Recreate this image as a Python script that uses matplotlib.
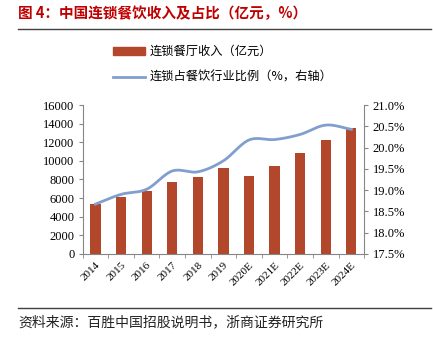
import numpy as np
import matplotlib
matplotlib.use("Agg")
import matplotlib.pyplot as plt
from matplotlib.patches import Rectangle
from matplotlib.lines import Line2D

plt.rcParams['font.family'] = ['Noto Sans CJK SC', 'DejaVu Sans']

years = ['2014', '2015', '2016', '2017', '2018', '2019',
         '2020E', '2021E', '2022E', '2023E', '2024E']
revenue = [5400, 6100, 6800, 7700, 8300, 9200, 8400, 9500, 10800, 12200, 13500]
share = [18.67, 18.90, 19.02, 19.45, 19.43, 19.69, 20.18, 20.19, 20.31, 20.53, 20.43]

bar_color = '#B2472B'
line_color = '#819FCE'
serif = 'Liberation Serif'


def smooth(x, y, n=20):
    # catmull-rom style curve through the points (like excel smoothed line)
    x = np.asarray(x, float)
    y = np.asarray(y, float)
    px = np.concatenate([[2 * x[0] - x[1]], x, [2 * x[-1] - x[-2]]])
    py = np.concatenate([[2 * y[0] - y[1]], y, [2 * y[-1] - y[-2]]])
    xs, ys = [], []
    for i in range(1, len(px) - 2):
        t = np.linspace(0, 1, n, endpoint=False)
        for arr, out in ((px, xs), (py, ys)):
            p0, p1, p2, p3 = arr[i - 1], arr[i], arr[i + 1], arr[i + 2]
            out.extend(0.5 * ((2 * p1) + (-p0 + p2) * t
                              + (2 * p0 - 5 * p1 + 4 * p2 - p3) * t ** 2
                              + (-p0 + 3 * p1 - 3 * p2 + p3) * t ** 3))
    xs.append(x[-1])
    ys.append(y[-1])
    return np.array(xs), np.array(ys)


fig = plt.figure(figsize=(4.33, 3.38), dpi=100)
ax = fig.add_axes([0.191, 0.249, 0.650, 0.440])
x = np.arange(len(years))
ax.bar(x, revenue, width=0.4, color=bar_color, zorder=2)
ax.set_xlim(-0.5, len(years) - 0.5)
ax.set_ylim(0, 16000)
ax.set_yticks(np.arange(0, 16001, 2000))

ax2 = ax.twinx()
sx, sy = smooth(x, share)
ax2.plot(sx, sy, color=line_color, lw=2, zorder=3)
ax2.set_ylim(17.5, 21.0)
ax2.set_yticks(np.arange(17.5, 21.01, 0.5))
ax2.set_yticklabels(['%.1f%%' % v for v in np.arange(17.5, 21.01, 0.5)])

for a in (ax, ax2):
    for s in a.spines.values():
        s.set_visible(False)
ax.spines['left'].set_visible(True)
ax.spines['bottom'].set_visible(True)
ax2.spines['right'].set_visible(True)
for s in (ax.spines['left'], ax.spines['bottom'], ax2.spines['right']):
    s.set_color('#868686')
    s.set_linewidth(0.8)

ax.set_xticks(x)
ax.set_xticklabels(years, rotation=45, ha='right', rotation_mode='anchor',
                   fontfamily=serif, fontsize=8)
ax.set_xticks(np.arange(-0.5, len(years), 1), minor=True)
ax.tick_params(axis='x', which='major', length=0, pad=5)
ax.tick_params(axis='x', which='minor', length=3, color='#868686', direction='out')
ax.tick_params(axis='y', length=3, color='#868686', labelsize=9, pad=3)
ax2.tick_params(axis='y', length=3, color='#868686', labelsize=9, pad=3)
for lab in ax.get_yticklabels() + ax2.get_yticklabels():
    lab.set_fontfamily(serif)

# title and rules
fig.text(0.042, 0.962, '图 4：中国连锁餐饮收入及占比（亿元，%）', color='#C00000',
         fontsize=10.5, fontweight='bold', va='center')
fig.add_artist(Line2D([0.042, 0.995], [0.914, 0.914], color='#404040', lw=1))
fig.add_artist(Line2D([0.042, 0.995], [0.089, 0.089], color='#404040', lw=1))
fig.text(0.042, 0.046, '资料来源：百胜中国招股说明书，浙商证券研究所', fontsize=10,
         color='#222222', va='center')

# legend
fig.add_artist(Rectangle((0.261, 0.838), 0.074, 0.022, color=bar_color,
                         transform=fig.transFigure))
fig.text(0.346, 0.849, '连锁餐厅收入（亿元）', fontsize=8.8, va='center')
fig.add_artist(Line2D([0.261, 0.335], [0.773, 0.773], color=line_color, lw=2))
fig.text(0.346, 0.773, '连锁占餐饮行业比例（%，右轴）', fontsize=8.8, va='center')

fig.savefig('out.png', dpi=100)
